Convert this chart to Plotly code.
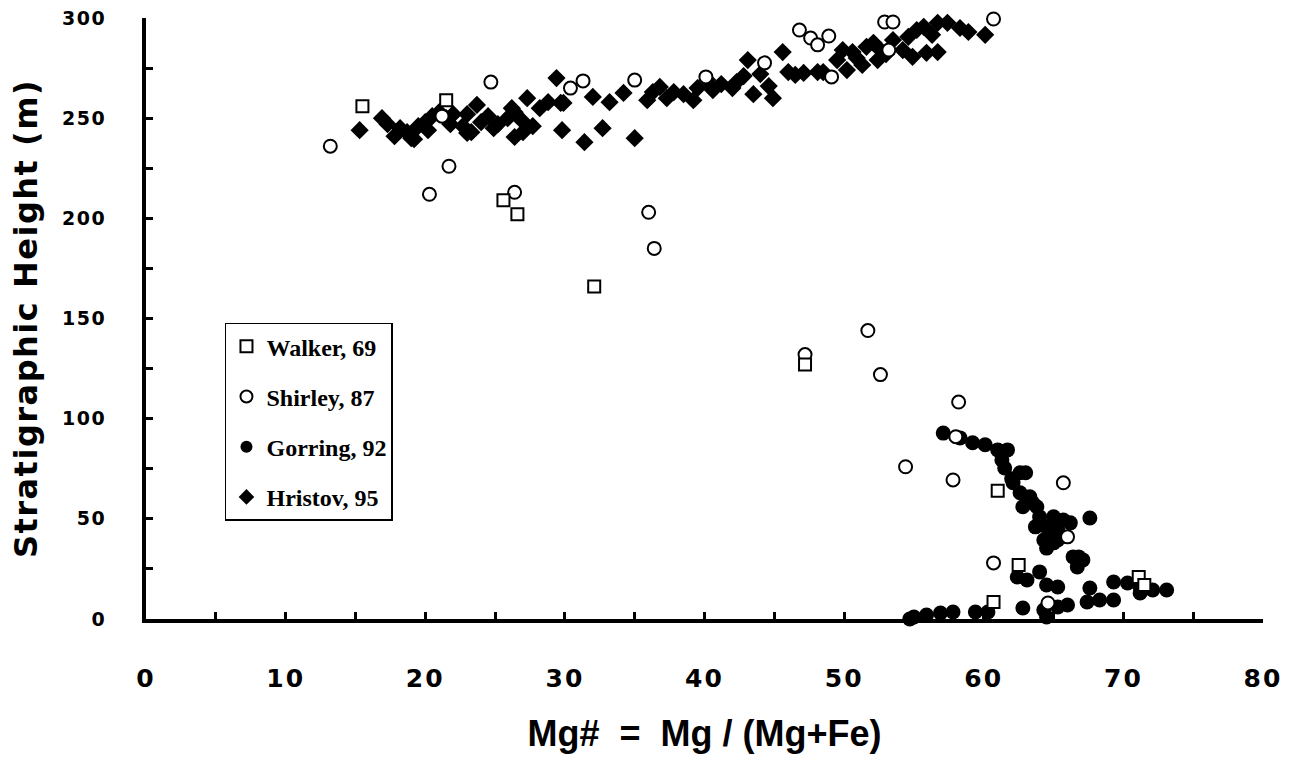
import plotly.graph_objects as go

# ---- data ----
walker_x = [15.5, 21.5, 25.6, 26.6, 32.1, 47.2, 61.0, 62.5, 71.1, 71.5, 60.7]
walker_y = [256, 259, 209, 202, 166, 127, 64, 27, 21, 17, 8.5]

shirley_x = [13.2, 20.3, 21.7, 21.2, 24.7, 26.4, 30.4, 31.3, 35.0, 36.0, 36.4,
             40.1, 44.3, 46.8, 47.6, 48.1, 48.9, 49.1, 47.2, 51.7, 52.6, 52.9,
             53.5, 53.2, 60.7, 54.4, 57.8, 58.2, 58.0, 65.7, 66.0, 60.7, 64.6]
shirley_y = [236, 212, 226, 251, 268, 213, 265, 268.6, 269, 203, 185,
             270.6, 277.6, 294, 290, 286.6, 291, 270.6, 132, 144, 122, 298,
             298, 284, 299.5, 76, 69.4, 108.3, 91, 68, 41, 28, 8]

gorring_x = [57.1, 58.3, 59.2, 60.1, 61.0, 61.7, 61.3, 61.5, 62.6, 63.0, 62.1,
             62.6, 63.3, 62.8, 63.8, 64.0, 63.7, 65.0, 64.5, 65.3, 66.2, 65.7,
             67.6, 64.3, 65.3, 64.5, 65.0, 66.4, 67.1, 66.7, 62.4, 63.1, 64.0,
             64.5, 65.3, 67.6, 67.4, 68.3, 69.3, 69.3, 70.3, 71.2, 72.1, 73.1,
             71.2, 62.8, 64.3, 65.3, 66.0, 64.5, 54.7, 55.0, 55.9, 56.9, 57.8,
             59.4, 60.3, 62.0, 63.5, 64.8, 66.8]
gorring_y = [92.8, 90.4, 88, 87, 84.4, 84.4, 79.4, 75.4, 73, 73, 68,
             63, 61, 56, 56, 51, 46, 51, 46, 44.4, 48, 49.4,
             50.4, 39.4, 39.4, 35.4, 38, 31, 29.5, 26, 21, 19.5, 23.5,
             17, 16, 15.5, 8.5, 9.5, 9.5, 18.5, 18, 16, 14.5, 14.5,
             13, 5.5, 4.5, 6, 7, 1, 0, 1, 2, 3, 3.5,
             3.5, 3.5, 70, 58, 42, 31]

hristov_x = [15.3, 16.9, 17.3, 17.8, 18.7, 19.2, 19.5, 20.0, 20.5, 21.0, 21.5,
             22.0, 19.0, 20.2, 22.7, 23.0, 23.3, 23.7, 24.0, 24.5, 24.9, 23.0,
             25.9, 26.4, 26.9, 27.3, 27.7, 26.4, 26.2, 27.0, 28.2, 28.8, 29.4,
             29.7, 29.8, 29.9, 31.4, 32.7, 35.0, 32.0, 33.2, 34.2, 35.9, 36.3,
             36.8, 37.3, 37.8, 38.5, 39.2, 39.5, 40.2, 40.6, 41.2, 42.0, 42.3,
             43.1, 43.5, 44.0, 44.6, 44.9, 42.8, 45.6, 46.0, 46.5, 47.1, 48.1,
             48.5, 49.5, 49.9, 50.2, 50.6, 51.3, 51.6, 52.1, 52.4, 52.6, 53.5,
             54.2, 54.6, 54.9, 55.7, 55.9, 56.7, 56.7, 57.4, 56.3, 58.3, 58.9,
             60.1, 55.2, 18.2, 21.8, 25.2, 50.9, 53.0]
hristov_y = [244, 250, 247, 241, 243, 239.5, 246, 248, 251, 253, 250,
             252, 240, 244, 246, 252, 243, 256.6, 248, 251, 245, 242.6,
             250, 253, 249, 260, 246, 240.6, 255, 243, 255, 258, 270,
             257.6, 244, 257.6, 238, 245, 240, 260.6, 258, 262.6, 259, 263,
             265.6, 260, 263, 262, 259, 265, 269, 264, 267, 265, 268,
             279, 262, 272, 266, 260, 271, 283, 273, 271.6, 272.6, 273,
             273, 279, 284, 274, 283, 276.6, 285.6, 287.6, 279, 284, 289,
             284, 290.6, 280.6, 295.6, 282.6, 283, 297.6, 297.6, 291.6, 295, 293,
             291.6, 294, 245, 247, 247, 280, 282]

x_ticks = [0, 10, 20, 30, 40, 50, 60, 70, 80]
y_ticks = [0, 50, 100, 150, 200, 250, 300]

fig = go.Figure()

fig.add_trace(go.Scatter(
    x=hristov_x, y=hristov_y, mode="markers", name="Hristov, 95",
    legendgroup="d", legendrank=4, cliponaxis=False,
    marker=dict(symbol="diamond", size=14, color="black",
                line=dict(width=0))))
fig.add_trace(go.Scatter(
    x=gorring_x, y=gorring_y, mode="markers", name="Gorring, 92",
    legendgroup="c", legendrank=3, cliponaxis=False,
    marker=dict(symbol="circle", size=15, color="black",
                line=dict(width=0))))
fig.add_trace(go.Scatter(
    x=shirley_x, y=shirley_y, mode="markers", name="Shirley, 87",
    legendgroup="b", legendrank=2, cliponaxis=False,
    marker=dict(symbol="circle", size=13, color="white",
                line=dict(width=2, color="black"))))
fig.add_trace(go.Scatter(
    x=walker_x, y=walker_y, mode="markers", name="Walker, 69",
    legendgroup="a", legendrank=1, cliponaxis=False,
    marker=dict(symbol="square", size=12, color="white",
                line=dict(width=2, color="black"))))

fig.update_layout(
    width=1300, height=767,
    paper_bgcolor="white", plot_bgcolor="white",
    margin=dict(l=146, r=37, t=18, b=148),
    showlegend=True,
    legend=dict(
        x=0.0707, y=0.493, xanchor="left", yanchor="top",
        bgcolor="white", bordercolor="black", borderwidth=1.5,
        font=dict(family="Liberation Serif", size=24, color="black", weight="bold"),
        tracegroupgap=16, itemsizing="constant",
        traceorder="grouped", entrywidth=133, entrywidthmode="pixels",
    ),
    xaxis=dict(
        range=[0, 80], tickvals=x_ticks, showgrid=False, zeroline=False,
        automargin=False,
        showline=True, linecolor="black", linewidth=4,
        ticks="inside", ticklen=7, tickwidth=3, tickcolor="black",
        minor=dict(dtick=5, ticks="inside", ticklen=7, tickwidth=3, tickcolor="black"),
        tickfont=dict(family="DejaVu Sans", size=25, color="black", weight="bold"),
        ticklabelstandoff=34,
        title=dict(text="Mg#  =  Mg / (Mg+Fe)", standoff=30,
                   font=dict(family="Liberation Sans", size=36, color="black", weight="bold")),
    ),
    yaxis=dict(
        range=[0, 300], tickvals=y_ticks, showgrid=False, zeroline=False,
        automargin=False,
        showline=True, linecolor="black", linewidth=4,
        ticks="inside", ticklen=7, tickwidth=3, tickcolor="black",
        minor=dict(dtick=25, ticks="inside", ticklen=7, tickwidth=3, tickcolor="black"),
        tickfont=dict(family="DejaVu Sans", size=19, color="black", weight="bold"),
        ticklabelstandoff=32,
        title=dict(text="Stratigraphic Height (m)", standoff=20,
                   font=dict(family="DejaVu Sans", size=32, color="black", weight="bold")),
    ),
)

css = (
    "document.body.style.margin='0';"
    "var s=document.createElement('style');"
    "s.textContent='.ytitle{letter-spacing:1.5px}"
    " .xtick text{letter-spacing:2px} .ytick text{letter-spacing:1.5px}';"
    "document.head.appendChild(s);"
)

fig.write_html("out.html", post_script=css, config={"displayModeBar": False})
